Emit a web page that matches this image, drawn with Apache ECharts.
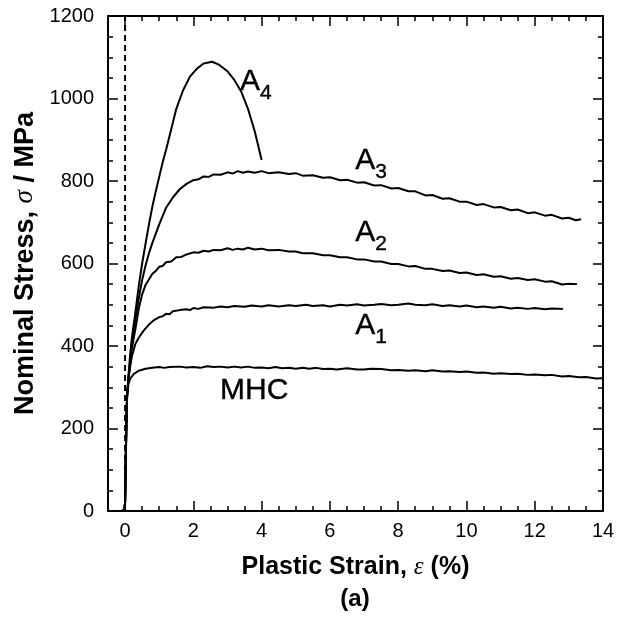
<!DOCTYPE html>
<html>
<head>
<meta charset="utf-8">
<script src="https://cdn.jsdelivr.net/npm/echarts@6/dist/echarts.min.js"></script>
<style>html,body{margin:0;padding:0;background:#fff;}#c{width:623px;height:618px;}</style>
</head>
<body>
<div id="c"></div>
<script>
var xTickValues = [0, 2, 4, 6, 8, 10, 12, 14];
var xMinorValues = [-0.5, 0.5, 1, 1.5, 2.5, 3, 3.5, 4.5, 5, 5.5, 6.5, 7, 7.5, 8.5, 9, 9.5, 10.5, 11, 11.5, 12.5, 13, 13.5];
var yTicks = [0, 200, 400, 600, 800, 1000, 1200];

var mhc = [[-0.5,0],[-0.1,0],[-0.02,2],[0.0,20],[0.02,120],[0.04,220],[0.06,280],[0.1,308],[0.15,320],[0.25,332],[0.4,340],[0.6,345],[0.8,347],[1.0,349],[1.15,347],[1.3,349],[1.6,350],[1.8,348],[2.0,349],[2.2,347],[2.4,351],[2.6,349],[2.8,350],[3.0,348],[3.2,350],[3.4,348],[3.6,350],[3.8,347],[4.0,348],[4.2,346],[4.4,349],[4.6,346],[4.8,347],[5.0,345],[5.2,347],[5.4,345],[5.6,347],[5.8,344],[6.0,345],[6.2,343],[6.5,346],[6.8,343],[7.0,343],[7.2,345],[7.5,344],[7.8,341],[8.0,342],[8.3,340],[8.5,341],[8.8,339],[9.0,341],[9.3,338],[9.5,339],[9.8,337],[10.0,338],[10.3,335],[10.5,336],[10.8,333],[11.0,334],[11.3,332],[11.5,333],[11.8,330],[12.0,331],[12.3,329],[12.5,330],[12.8,326],[13.0,327],[13.3,324],[13.5,325],[13.8,321],[14.0,322]];
var a1 = [[-0.5,0],[-0.1,0],[-0.02,2],[0.0,20],[0.02,120],[0.04,220],[0.06,280],[0.1,320],[0.15,350],[0.2,375],[0.3,405],[0.4,420],[0.55,438],[0.7,452],[0.85,463],[1.0,470],[1.1,472],[1.2,478],[1.3,477],[1.4,484],[1.6,487],[1.8,489],[1.9,487],[2.0,492],[2.15,490],[2.3,494],[2.6,493],[2.8,496],[3.0,494],[3.2,497],[3.5,495],[3.7,498],[4.0,496],[4.2,499],[4.5,496],[4.8,499],[5.0,497],[5.3,500],[5.5,497],[5.8,499],[6.0,496],[6.3,500],[6.5,498],[6.8,501],[7.0,498],[7.3,500],[7.5,502],[7.8,499],[8.0,500],[8.3,503],[8.5,500],[8.8,499],[9.0,501],[9.3,497],[9.5,499],[9.8,496],[10.0,498],[10.3,494],[10.5,496],[10.8,493],[11.0,495],[11.3,491],[11.5,493],[11.8,490],[12.0,492],[12.3,489],[12.5,491],[12.83,490]];
var a2 = [[-0.5,0],[-0.1,0],[-0.02,2],[0.0,20],[0.02,120],[0.04,220],[0.06,280],[0.1,320],[0.15,360],[0.2,395],[0.3,440],[0.4,490],[0.5,525],[0.6,548],[0.8,575],[0.9,582],[1.0,592],[1.1,594],[1.2,603],[1.35,605],[1.5,615],[1.65,616],[1.8,622],[2.0,627],[2.15,626],[2.3,631],[2.45,629],[2.6,633],[2.8,632],[3.0,637],[3.15,633],[3.3,636],[3.45,634],[3.6,638],[3.8,634],[4.0,636],[4.2,632],[4.5,633],[4.8,629],[5.0,629],[5.2,625],[5.5,625],[5.8,620],[6.0,620],[6.3,615],[6.5,615],[6.8,610],[7.0,610],[7.3,605],[7.5,605],[7.8,599],[8.0,599],[8.3,593],[8.5,594],[8.8,587],[9.0,587],[9.3,582],[9.5,583],[9.8,577],[10.0,578],[10.3,572],[10.5,574],[10.8,568],[11.0,569],[11.3,563],[11.5,565],[11.8,560],[12.0,562],[12.3,556],[12.5,557],[12.8,549],[13.0,551],[13.24,550]];
var a3 = [[-0.5,0],[-0.1,0],[-0.02,2],[0.0,20],[0.02,120],[0.04,220],[0.06,280],[0.1,320],[0.15,365],[0.2,410],[0.3,465],[0.4,515],[0.5,560],[0.6,595],[0.7,625],[0.8,650],[1.0,695],[1.2,735],[1.4,760],[1.6,780],[1.8,793],[2.0,802],[2.15,804],[2.3,811],[2.45,810],[2.6,816],[2.8,815],[3.0,821],[3.15,818],[3.3,824],[3.45,820],[3.6,823],[3.8,820],[4.0,824],[4.2,819],[4.5,821],[4.8,817],[5.0,819],[5.2,813],[5.5,814],[5.8,808],[6.0,809],[6.3,802],[6.5,803],[6.8,796],[7.0,797],[7.3,789],[7.5,790],[7.8,782],[8.0,783],[8.3,775],[8.5,775],[8.8,765],[9.0,766],[9.3,757],[9.5,758],[9.8,750],[10.0,750],[10.3,742],[10.5,744],[10.8,736],[11.0,737],[11.3,729],[11.5,731],[11.8,722],[12.0,724],[12.3,716],[12.5,718],[12.8,709],[13.0,711],[13.2,705],[13.36,707]];
var a4 = [[-0.5,0],[-0.1,0],[-0.02,2],[0.0,20],[0.02,120],[0.04,220],[0.06,280],[0.1,330],[0.15,380],[0.2,420],[0.3,480],[0.4,545],[0.5,600],[0.6,648],[0.7,695],[0.8,738],[0.9,775],[1.0,810],[1.1,845],[1.2,875],[1.35,925],[1.5,975],[1.7,1020],[1.9,1053],[2.1,1072],[2.3,1085],[2.55,1089],[2.75,1082],[3.0,1066],[3.2,1045],[3.4,1017],[3.6,975],[3.8,920],[4.0,851]];
var dashed = [[0,0],[0,1200]];

var labelMain = ['A', 'A', 'A', 'A', 'MHC'];
var labelSub = ['4', '3', '2', '1', ''];
var labelX = [3.37, 6.74, 6.74, 6.74, 2.78];
var labelY = [1040, 848, 674, 448, 291];

var font = '"Liberation Sans", Arial, sans-serif';
function lineSeries(name, data) {
  return { name: name, type: 'line', data: data, showSymbol: false, symbol: 'none', smooth: false,
    lineStyle: { color: '#000', width: 2 }, z: 3, silent: true };
}
var labelData = labelMain.map(function (m, i) {
  return { value: [labelX[i], labelY[i]],
    label: { formatter: labelSub[i] ? '{a|' + m + '}{s|' + labelSub[i] + '}' : '{a|' + m + '}' } };
});

var chart = echarts.init(document.getElementById('c'));
var baseX = { type: 'value', min: -0.5, max: 14, splitLine: { show: false } };
var baseY = { type: 'value', min: 0, max: 1200, interval: 200, splitLine: { show: false } };
function nameRich(size) {
  return { b: { fontFamily: font, fontWeight: 'bold', fontSize: size, color: '#000' },
           e: { fontFamily: '"Liberation Serif", serif', fontStyle: 'italic', fontSize: size, color: '#000' } };
}
chart.setOption({
  animation: false,
  textStyle: { fontFamily: font },
  title: { text: '(a)', left: 355, textAlign: 'center', top: 587, padding: 0,
    textStyle: { fontFamily: font, fontWeight: 'bold', fontSize: 24, color: '#000' } },
  grid: { left: 108, right: 20, top: 16, bottom: 107 },
  xAxis: [
    Object.assign({}, baseX, { position: 'bottom',
      axisLine: { show: true, onZero: false, lineStyle: { color: '#000', width: 2 } },
      axisTick: { show: true, inside: true, length: 10, lineStyle: { color: '#000', width: 1.5 }, customValues: xTickValues },
      axisLabel: { show: true, customValues: xTickValues, color: '#000', fontSize: 20, fontFamily: font, margin: 10 },
      name: '{b|Plastic Strain, }{e|ε}{b| (%)}', nameLocation: 'middle', nameGap: 44,
      nameTextStyle: { rich: nameRich(25) } }),
    Object.assign({}, baseX, { position: 'bottom',
      axisLine: { show: false, onZero: false },
      axisTick: { show: true, inside: true, length: 5, lineStyle: { color: '#000', width: 1.5 }, customValues: xMinorValues },
      axisLabel: { show: false } }),
    Object.assign({}, baseX, { position: 'top',
      axisLine: { show: true, onZero: false, lineStyle: { color: '#000', width: 2 } },
      axisTick: { show: true, inside: true, length: 10, lineStyle: { color: '#000', width: 1.5 }, customValues: xTickValues },
      axisLabel: { show: false } }),
    Object.assign({}, baseX, { position: 'top',
      axisLine: { show: false, onZero: false },
      axisTick: { show: true, inside: true, length: 5, lineStyle: { color: '#000', width: 1.5 }, customValues: xMinorValues },
      axisLabel: { show: false } })
  ],
  yAxis: [
    Object.assign({}, baseY, { position: 'left',
      axisLine: { show: true, onZero: false, lineStyle: { color: '#000', width: 2 } },
      axisTick: { show: true, inside: true, length: 10, lineStyle: { color: '#000', width: 1.5 } },
      minorTick: { show: true, splitNumber: 4, length: 5, lineStyle: { color: '#000', width: 1.5 } },
      axisLabel: { show: true, color: '#000', fontSize: 20, fontFamily: font, margin: 14,
        formatter: function (v) { return String(v); } },
      name: '{b|Nominal Stress, }{e|σ}{b| / MPa}', nameLocation: 'middle', nameGap: 66,
      nameTextStyle: { rich: nameRich(27) } }),
    Object.assign({}, baseY, { position: 'right',
      axisLine: { show: true, onZero: false, lineStyle: { color: '#000', width: 2 } },
      axisTick: { show: true, inside: true, length: 10, lineStyle: { color: '#000', width: 1.5 } },
      minorTick: { show: true, splitNumber: 4, length: 5, lineStyle: { color: '#000', width: 1.5 } },
      axisLabel: { show: false } })
  ],
  series: [
    { name: 'zero', type: 'line', data: dashed, showSymbol: false, symbol: 'none',
      lineStyle: { color: '#000', width: 2, type: [6, 4] }, z: 2, silent: true },
    lineSeries('MHC', mhc), lineSeries('A1', a1), lineSeries('A2', a2), lineSeries('A3', a3), lineSeries('A4', a4),
    { name: 'labels', type: 'scatter', symbolSize: 0, data: labelData, silent: true, z: 5,
      itemStyle: { color: '#000', opacity: 1 },
      label: { show: true, position: 'right', distance: 0, color: '#000', opacity: 1,
        textBorderColor: '#000', textBorderWidth: 0.4,
        rich: { a: { fontFamily: font, fontSize: 30, lineHeight: 31, color: '#000', textBorderColor: '#000', textBorderWidth: 0.4 },
                s: { fontFamily: font, fontSize: 21, lineHeight: 21, padding: [22, 0, 0, 0], color: '#000', textBorderColor: '#000', textBorderWidth: 0.4 } } } }
  ]
});
</script>
</body>
</html>
